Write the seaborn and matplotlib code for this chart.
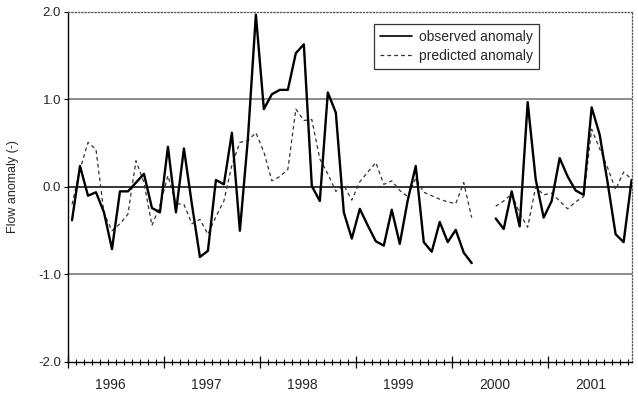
import numpy as np
import pandas as pd
import matplotlib
matplotlib.use("Agg")
import matplotlib.pyplot as plt
import matplotlib.transforms as mtransforms
from matplotlib.lines import Line2D
from matplotlib.ticker import FixedLocator, NullFormatter
import seaborn as sns

# Monthly flow anomalies, Jan 1996 - Nov 2001 (NaN = missing months)
years = ["1996", "1997", "1998", "1999", "2000", "2001"]
observed = [
    -0.38, 0.24, -0.10, -0.06, -0.29, -0.71, -0.05, -0.05, 0.05, 0.15, -0.24, -0.29,
    0.46, -0.29, 0.44, -0.20, -0.80, -0.73, 0.08, 0.03, 0.62, -0.50, 0.55, 1.97,
    0.89, 1.06, 1.11, 1.11, 1.53, 1.63, 0.01, -0.16, 1.08, 0.85, -0.29, -0.59,
    -0.25, -0.44, -0.62, -0.67, -0.26, -0.65, -0.15, 0.24, -0.63, -0.74, -0.40, -0.63,
    -0.49, -0.75, -0.87, np.nan, np.nan, -0.36, -0.48, -0.05, -0.45, 0.97, 0.09, -0.35,
    -0.16, 0.33, 0.12, -0.04, -0.09, 0.91, 0.60, 0.05, -0.54, -0.63, 0.08,
]
predicted = [
    -0.20, 0.20, 0.51, 0.43, -0.30, -0.50, -0.42, -0.31, 0.30, 0.05, -0.44, -0.21,
    0.13, -0.19, -0.20, -0.42, -0.37, -0.54, -0.34, -0.16, 0.25, 0.51, 0.53, 0.62,
    0.40, 0.07, 0.12, 0.20, 0.89, 0.76, 0.77, 0.32, 0.15, -0.05, 0.02, -0.15,
    0.06, 0.17, 0.28, 0.03, 0.07, -0.04, -0.11, 0.10, -0.06, -0.10, -0.14, -0.17,
    -0.19, 0.05, -0.35, np.nan, np.nan, -0.22, -0.16, -0.08, -0.30, -0.46, 0.00, -0.09,
    -0.07, -0.16, -0.25, -0.17, -0.11, 0.66, 0.44, 0.22, -0.03, 0.17, 0.09,
]
series_names = ["observed anomaly", "predicted anomaly"]

months = np.arange(len(observed))


def to_long(values, name):
    df = pd.DataFrame({"month": months, "anomaly": values, "series": name})
    # separate runs of consecutive valid values so gaps stay open
    df["segment"] = df["anomaly"].isna().cumsum()
    return df.dropna()


data = pd.concat([to_long(observed, series_names[0]),
                  to_long(predicted, series_names[1])], ignore_index=True)

sns.set_theme(style="ticks")
plt.rcParams["font.family"] = ["Liberation Sans", "DejaVu Sans"]

fig = plt.figure(figsize=(6.38, 3.97), dpi=100)
ax = fig.add_axes([0.1066, 0.0882, 0.8840, 0.8816])

# reference lines
for yv, col in [(1.0, "#6e6e6e"), (-1.0, "#6e6e6e"), (0.0, "black")]:
    ax.axhline(yv, color=col, lw=1.1, zorder=1)

sns.lineplot(data=data[data["series"] == series_names[1]], x="month", y="anomaly",
             units="segment", estimator=None, color="#333333", lw=0.9,
             ax=ax, zorder=2, linestyle=(0, (3, 2.5)))
sns.lineplot(data=data[data["series"] == series_names[0]], x="month", y="anomaly",
             units="segment", estimator=None, color="black", lw=1.7,
             ax=ax, zorder=3)

ax.set_xlim(-0.5, 70.05)
ax.set_ylim(-2.0, 2.0)
ax.set_yticks([2.0, 1.0, 0.0, -1.0, -2.0])
ax.set_yticklabels(["2.0", "1.0", "0.0", "-1.0", "-2.0"], fontsize=9.5)
ax.yaxis.set_minor_locator(FixedLocator([]))
ax.set_ylabel("Flow anomaly (-)", fontsize=9, labelpad=14)
ax.set_xlabel("")

# month ticks with year boundaries as major ticks
ax.xaxis.set_major_locator(FixedLocator([-0.5 + 12 * k for k in range(len(years))]))
ax.xaxis.set_minor_locator(FixedLocator([-0.5 + k for k in range(71) if k % 12]))
ax.xaxis.set_major_formatter(NullFormatter())
ax.xaxis.set_minor_formatter(NullFormatter())
ax.tick_params(axis="x", which="major", direction="inout", length=8, width=0.9,
               color="black", bottom=True, top=False)
ax.tick_params(axis="x", which="minor", direction="inout", length=4, width=0.8,
               color="black", bottom=True, top=False)
ax.tick_params(axis="y", which="major", direction="out", length=3, width=0.8,
               color="black", left=True, right=False, pad=2)

trans = mtransforms.blended_transform_factory(ax.transData, ax.transAxes)
for k, yr in enumerate(years):
    ax.text(12 * k + 4.85, -0.066, yr, transform=trans, ha="center", va="center",
            fontsize=10)

for side in ["left", "bottom"]:
    ax.spines[side].set_color("black")
    ax.spines[side].set_linewidth(1.0)
for side in ["top", "right"]:
    ax.spines[side].set_visible(True)
    ax.spines[side].set_color("#555555")
    ax.spines[side].set_linewidth(0.9)
    ax.spines[side].set_linestyle(":")

handles = [Line2D([], [], color="black", lw=1.2),
           Line2D([], [], color="#333333", lw=0.9, linestyle=(0, (3, 2.5)))]
leg = ax.legend(handles, series_names, loc="upper left",
                bbox_to_anchor=(0.5426, 0.9657), fontsize=10, frameon=True,
                fancybox=False, handlelength=2.3, handletextpad=0.5,
                borderpad=0.45, labelspacing=0.35, borderaxespad=0)
leg.get_frame().set_edgecolor("black")
leg.get_frame().set_linewidth(0.9)

fig.savefig("out.png", dpi=100)
